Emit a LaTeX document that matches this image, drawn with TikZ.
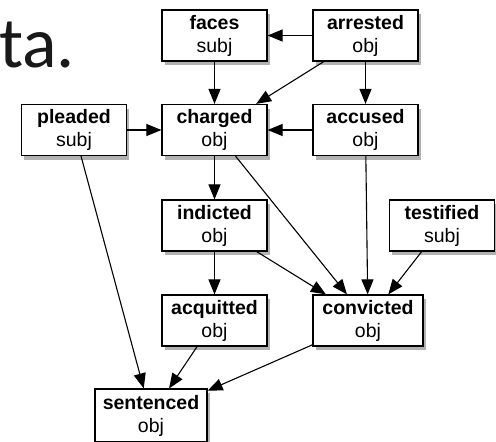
\documentclass[tikz,border=0pt]{standalone}
\usepackage{fontspec}
\setmainfont{Liberation Sans}
\newfontfamily\slidefont{Carlito}
\usetikzlibrary{arrows.meta,shadows}

\begin{document}
\begin{tikzpicture}[
    word/.style={draw, line width=1.2pt, fill=white, align=center,
      minimum width=105pt, minimum height=51pt, inner sep=2pt,
      font=\fontsize{19.5}{23}\selectfont,
      drop shadow={shadow xshift=2.5pt, shadow yshift=-4pt, opacity=0.5,
        fill=black!60}},
    arr/.style={-{Triangle[length=15pt,width=12pt]}, line width=1.1pt}
  ]
  \useasboundingbox (0pt,0pt) rectangle (496pt,-442pt);

  %% left-over of the slide title
  \node[anchor=base west, inner sep=0pt, text=black!90]
    (title) at (-1pt,-67pt) {\slidefont\fontsize{72}{80}\selectfont ta.};

  \node[word] (faces)     at (214.5pt, -35.5pt) {\textbf{faces}\\subj};
  \node[word] (arrested)  at (365.5pt, -35.5pt) {\textbf{arrested}\\obj};

  \node[word] (pleaded)   at ( 74pt, -130pt) {\textbf{pleaded}\\subj};
  \node[word] (charged)   at (214.5pt, -130pt) {\textbf{charged}\\obj};
  \node[word] (accused)   at (365.5pt, -130pt) {\textbf{accused}\\obj};

  \node[word] (indicted)  at (214.5pt, -225.5pt) {\textbf{indicted}\\obj};
  \node[word] (testified) at (442pt, -225.5pt) {\textbf{testified}\\subj};

  \node[word] (acquitted) at (214.5pt, -320.5pt) {\textbf{acquitted}\\obj};
  \node[word, minimum width=110pt] (convicted) at (368pt, -320.5pt)
    {\textbf{convicted}\\obj};

  \node[word, minimum width=112pt, minimum height=53pt] (sentenced)
    at (151pt, -415.5pt) {\textbf{sentenced}\\obj};

  \draw[arr] (arrested) -- (faces);     %% arrested -> faces
  \draw[arr] (arrested) -- (charged);   %% arrested -> charged
  \draw[arr] (arrested) -- (accused);   %% arrested -> accused
  \draw[arr] (faces) -- (charged);      %% faces -> charged
  \draw[arr] (pleaded) -- (charged);    %% pleaded -> charged
  \draw[arr] (accused) -- (charged);    %% accused -> charged

  \draw[arr] (charged) -- (indicted);   %% charged -> indicted
  \draw[arr] (charged) -- (convicted);  %% charged -> convicted
  \draw[arr] (accused) -- (convicted);  %% accused -> convicted
  \draw[arr] (indicted) -- (convicted); %% indicted -> convicted
  \draw[arr] (testified) -- (convicted);%% testified -> convicted
  \draw[arr] (indicted) -- (acquitted); %% indicted -> acquitted

  \draw[arr] (pleaded) -- (sentenced);   %% pleaded -> sentenced
  \draw[arr] (acquitted) -- (sentenced); %% acquitted -> sentenced
  \draw[arr] (convicted) -- (sentenced); %% convicted -> sentenced

\end{tikzpicture}
\end{document}
